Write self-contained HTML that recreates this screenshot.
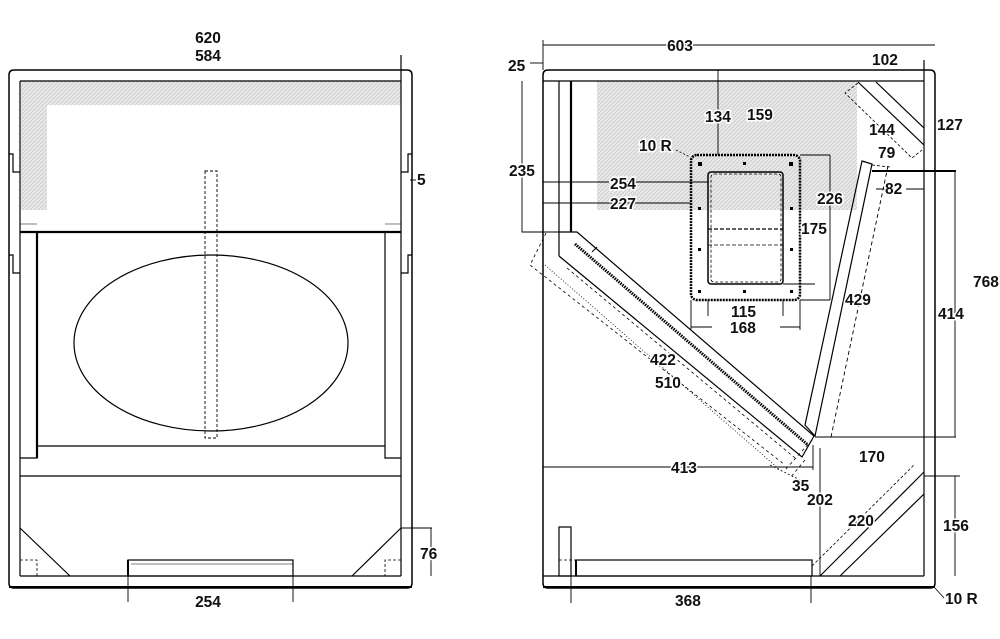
<!DOCTYPE html>
<html><head><style>
html,body{margin:0;padding:0;background:#fff;}
svg{display:block;}
text{font-family:"Liberation Sans",Arial,sans-serif;font-weight:bold;font-size:15.5px;fill:#111;stroke:#fff;stroke-width:3px;paint-order:stroke;}
</style></head><body>
<svg width="1000" height="639" viewBox="0 0 1000 639" xmlns="http://www.w3.org/2000/svg">
<defs>
<pattern id="h" width="4" height="4" patternUnits="userSpaceOnUse">
<rect width="4" height="4" fill="#e8e8e8"/><path d="M0 4L4 0" stroke="#cfcfcf" stroke-width="1"/>
</pattern>
</defs>
<g fill="none" stroke="#000" stroke-width="1.2">
<!-- LEFT VIEW -->
<rect x="21" y="81" width="380" height="24" fill="url(#h)" stroke="none"/>
<rect x="21" y="105" width="26" height="105" fill="url(#h)" stroke="none"/>
<path d="M9 75 Q9 70 14 70 L407 70 Q412 70 412 75 L412 583 Q412 588 407 588 L14 588 Q9 588 9 583 Z" stroke-width="1.5"/>
<line x1="20" y1="81" x2="401" y2="81"/>
<line x1="20" y1="81" x2="20" y2="576"/>
<line x1="401" y1="55" x2="401" y2="576"/>
<line x1="20" y1="576" x2="401" y2="576"/>
<line x1="9" y1="587" x2="412" y2="587" stroke-width="2"/>
<path d="M9 154 H13 V172 H20 M9 255 H13 V273 H20 M412 154 H408 V172 H401 M412 255 H408 V273 H401"/>
<line x1="20" y1="232" x2="401" y2="232" stroke-width="2.2"/>
<path d="M20 458 H37 V232 M37 232 V458" />
<line x1="37" y1="232" x2="37" y2="458" stroke-width="2.2"/>
<path d="M401 458 H385 V232"/>
<path d="M20 224 H37 M385 224 H401" stroke-width="0.6"/>
<line x1="37" y1="446" x2="385" y2="446"/>
<line x1="20" y1="476" x2="401" y2="476"/>
<ellipse cx="211" cy="343" rx="137" ry="88"/>
<rect x="205" y="171" width="12" height="267" stroke-dasharray="3,2" stroke-width="0.9"/>
<path d="M20 528 L70 576 M401 528 L352 576"/>
<path d="M20 560 H37 V576 M401 560 H385 V576" stroke-dasharray="3,2" stroke-width="0.8"/>
<rect x="128" y="560" width="165" height="16"/>
<line x1="128" y1="560" x2="128" y2="576" stroke-width="2"/>
<line x1="131" y1="564" x2="293" y2="564" stroke-width="0.5"/>
<path d="M128 576 V602 M293 576 V602" stroke-width="0.9"/>
<path d="M401 528 H432 M431 528 V576" stroke-width="0.9"/>
<path d="M410 180 H416" stroke-width="0.9"/>

<!-- RIGHT VIEW -->
<rect x="597" y="81" width="260" height="129" fill="url(#h)" stroke="none"/>
<path d="M543 75 Q543 70 548 70 L930 70 Q935 70 935 75 L935 583 Q935 588 930 588 L548 588 Q543 588 543 583 Z" stroke-width="1.5"/>
<line x1="543" y1="81" x2="924" y2="81"/>
<line x1="924" y1="60" x2="924" y2="576"/>
<line x1="543" y1="576" x2="924" y2="576"/>
<line x1="543" y1="587" x2="935" y2="587" stroke-width="2"/>
<line x1="543" y1="45" x2="935" y2="45" stroke-width="0.9"/>
<line x1="530" y1="63" x2="543" y2="63" stroke-width="0.9"/>
<line x1="543" y1="40" x2="543" y2="70" stroke-width="0.9"/>
<!-- left wall -->
<line x1="559" y1="81" x2="559" y2="256"/>
<line x1="571" y1="81" x2="571" y2="232" stroke-width="2.2"/>
<path d="M522 81 V232 H560" stroke-width="0.9"/>
<path d="M543 182 H708 M543 203 H690" stroke-width="0.9"/>
<!-- diagonal panel -->
<path d="M559 256 L802 457 L814 436 L577 232 L559 232"/>
<line x1="575" y1="244" x2="808" y2="445" stroke-width="3" stroke-dasharray="1.5,1"/>
<line x1="592" y1="252" x2="597" y2="247" stroke-width="1"/>
<path d="M546 233 L530 265 L785 465" stroke-dasharray="3,3" stroke-width="0.8"/>
<path d="M567 268 L795 458 M805 460 L790 478 M812 440 L785 470" stroke-dasharray="3,3" stroke-width="0.8"/>
<path d="M545 265 L780 470" stroke-dasharray="1,2" stroke-width="0.8"/>
<line x1="770" y1="465" x2="810" y2="485" stroke-dasharray="2,2" stroke-width="0.8"/>
<!-- slanted panel -->
<path d="M862 161 L872 164 L815 436 L805 425 Z"/>
<line x1="888" y1="166" x2="831" y2="437" stroke-dasharray="4,3" stroke-width="0.9"/>
<line x1="872" y1="171" x2="956" y2="171" stroke-width="2"/>
<line x1="955" y1="171" x2="955" y2="437" stroke-width="0.9"/>
<line x1="815" y1="437" x2="956" y2="437" stroke-width="0.9"/>
<path d="M876 189 H888 M906 189 H924" stroke-width="0.9"/>
<!-- top right diagonal -->
<path d="M858 82 L924 145 M876 82 L924 128"/>
<path d="M858 83 L845 93 L912 158 L922 150" stroke-dasharray="3,2" stroke-width="0.8"/>
<path d="M872 165 L890 167" stroke-dasharray="3,2" stroke-width="0.8"/>
<!-- bottom right diagonal -->
<path d="M820 576 L924 472 M840 576 L924 494"/>
<path d="M812 566 L914 465" stroke-dasharray="3,2" stroke-width="0.8"/>
<path d="M924 476 H960 M955 476 V576" stroke-width="0.9"/>
<line x1="820" y1="448" x2="820" y2="576" stroke-width="0.9"/>
<line x1="543" y1="467" x2="813" y2="467" stroke-width="0.9"/>
<line x1="813" y1="445" x2="813" y2="470" stroke-width="0.9"/>
<!-- bottom -->
<rect x="559" y="527" width="12" height="49"/>
<rect x="576" y="560" width="236" height="16"/>
<line x1="576" y1="560" x2="576" y2="576" stroke-width="2"/>
<path d="M559 560 H576" stroke-dasharray="3,2" stroke-width="0.8"/>
<path d="M571 576 V603 M811 576 V603" stroke-width="0.9"/>
<path d="M935 588 L944 598" stroke-width="0.8"/>
<!-- terminal plate -->
<rect x="691" y="155" width="109" height="145" rx="6" stroke-width="2.5" stroke-dasharray="2,1"/>
<rect x="708" y="172" width="75" height="112" rx="3" stroke-width="1.5"/>
<rect x="711" y="174" width="70" height="108" rx="3" stroke-dasharray="3,2" stroke-width="0.8"/>
<line x1="708" y1="229" x2="783" y2="229" stroke-dasharray="4,2" stroke-width="1.3"/>
<line x1="708" y1="245" x2="783" y2="245" stroke-dasharray="4,2" stroke-width="0.8"/>
<path d="M718 70 V155" stroke-width="0.9"/>
<path d="M800 155 H830 M830 155 V300 M783 284 H815 M691 300 V330 M800 300 V330 M800 300 H830 M708 300 V316 M783 300 V316" stroke-width="0.9"/>
<path d="M691 327 H712 M780 327 H800" stroke-width="0.9"/>
<path d="M676 150 L690 157" stroke-dasharray="2,2" stroke-width="0.8"/>
</g>
<g fill="#000">
<rect x="698" y="162" width="4" height="4"/><rect x="743" y="162" width="3" height="3"/><rect x="789" y="162" width="4" height="4"/>
<rect x="698" y="207" width="3" height="3"/><rect x="790" y="207" width="3" height="3"/>
<rect x="698" y="248" width="3" height="3"/><rect x="790" y="248" width="3" height="3"/>
<rect x="698" y="290" width="3" height="3"/><rect x="743" y="290" width="3" height="3"/><rect x="790" y="290" width="3" height="3"/>
</g>
<text x="208" y="43" text-anchor="middle">620</text>
<text x="208" y="61" text-anchor="middle">584</text>
<text x="417" y="185">5</text>
<text x="420" y="559">76</text>
<text x="208" y="607" text-anchor="middle">254</text>
<text x="680" y="51" text-anchor="middle">603</text>
<text x="508" y="71">25</text>
<text x="872" y="65">102</text>
<text x="937" y="130">127</text>
<text x="869" y="135">144</text>
<text x="878" y="158">79</text>
<text x="885" y="194">82</text>
<text x="705" y="122">134</text>
<text x="747" y="120">159</text>
<text x="639" y="151">10 R</text>
<text x="610" y="189">254</text>
<text x="610" y="209">227</text>
<text x="509" y="176">235</text>
<text x="817" y="204">226</text>
<text x="801" y="234">175</text>
<text x="731" y="317">115</text>
<text x="730" y="333">168</text>
<text x="845" y="305">429</text>
<text x="973" y="287">768</text>
<text x="938" y="319">414</text>
<text x="650" y="365">422</text>
<text x="655" y="388">510</text>
<text x="671" y="473">413</text>
<text x="792" y="491">35</text>
<text x="807" y="505">202</text>
<text x="859" y="462">170</text>
<text x="848" y="526">220</text>
<text x="943" y="531">156</text>
<text x="675" y="606">368</text>
<text x="945" y="604">10 R</text>
</svg>
</body></html>
